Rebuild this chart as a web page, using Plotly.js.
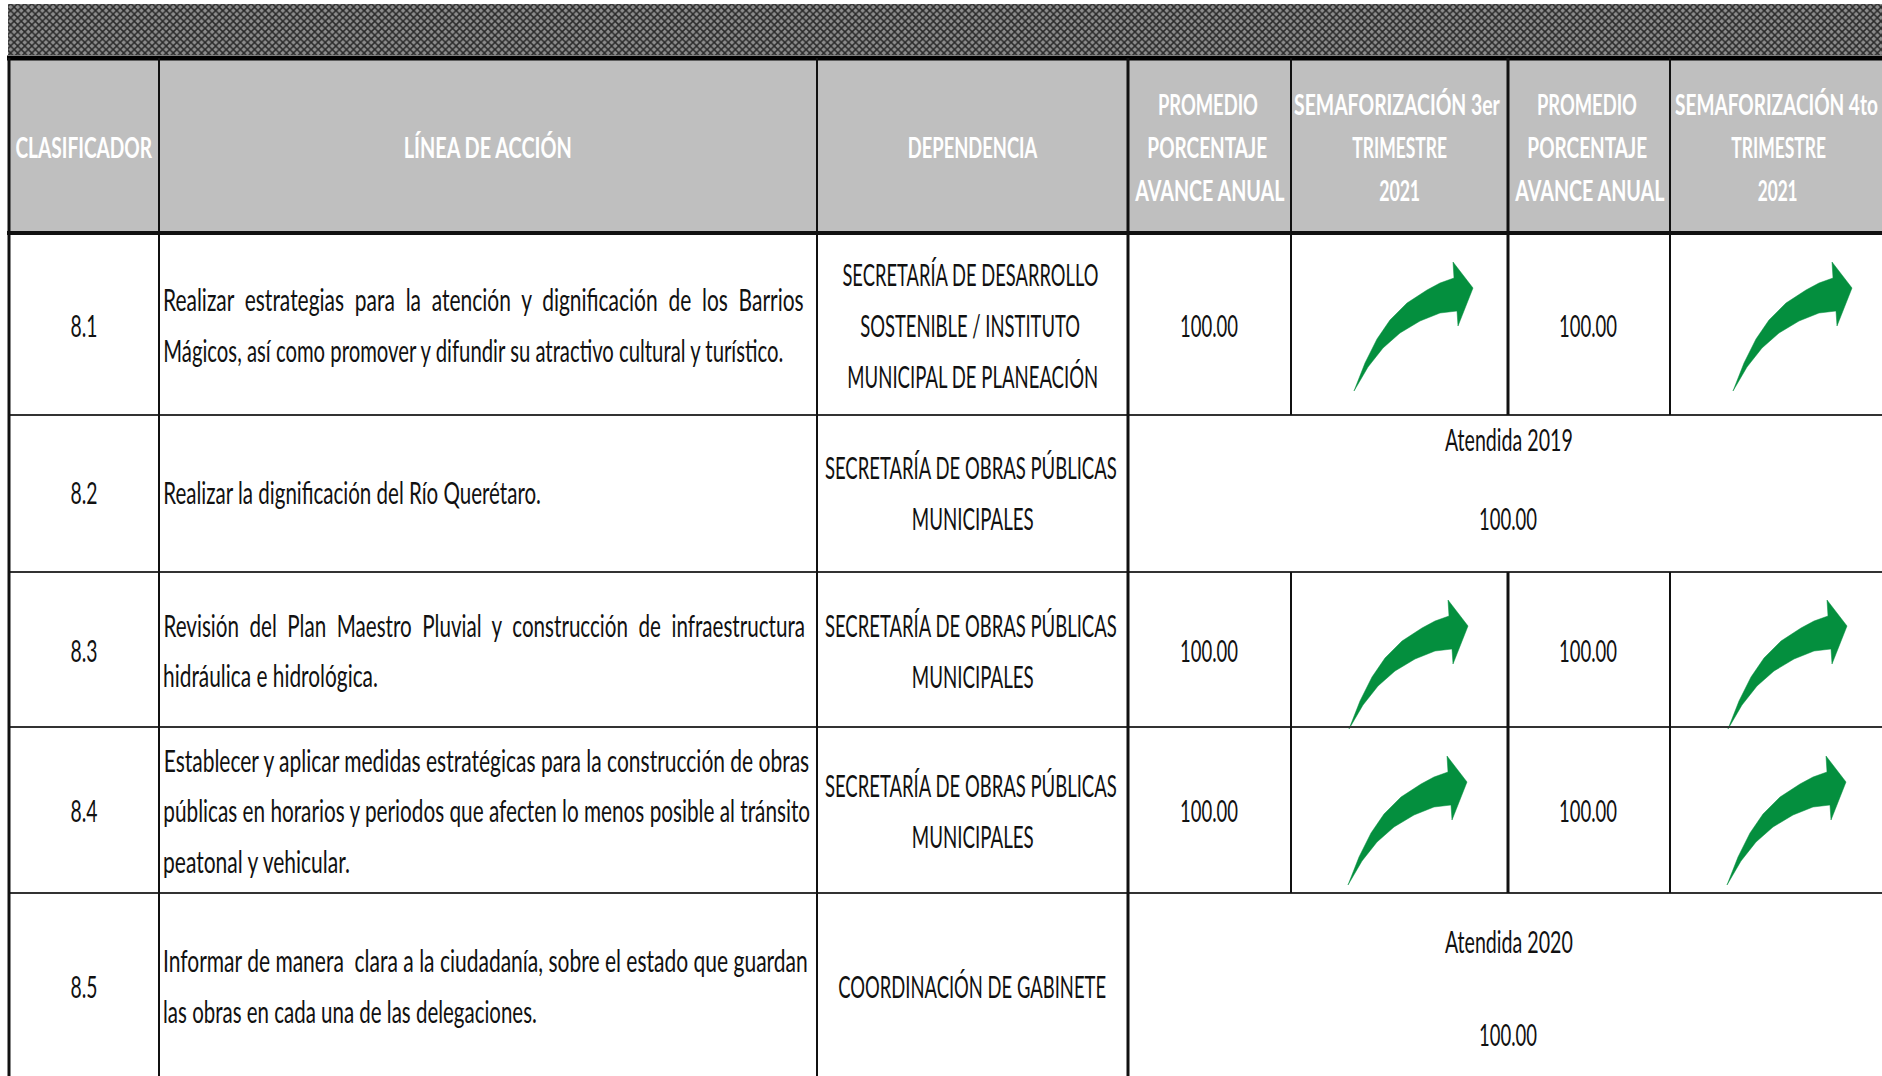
<!DOCTYPE html>
<html><head><meta charset="utf-8">
<script src="https://cdn.plot.ly/plotly-3.0.1.min.js"></script>
<style>html,body{margin:0;padding:0;background:#fff;overflow:hidden}</style>
</head><body><div id="c" style="width:1882px;height:1076px"></div>
<script>
const W=1882,H=1076;
const colEdges=[9,159,817,1128,1291,1508,1670,1882];
const rowEdges=[58,233,415,572,727,893,1076];
// text, centre x, centre y, width
const headers=[
 ["CLASIFICADOR",84,146,137],
 ["LÍNEA DE ACCIÓN",488,146,168],
 ["DEPENDENCIA",973,146,130],
 ["PROMEDIO",1208,103,100],["PORCENTAJE",1207,146,120],["AVANCE ANUAL",1209,189,150],
 ["SEMAFORIZACIÓN 3er",1397,103,206],["TRIMESTRE",1399,146,95],["2021",1399,189,41],
 ["PROMEDIO",1587,103,100],["PORCENTAJE",1587,146,120],["AVANCE ANUAL",1589,189,150],
 ["SEMAFORIZACIÓN 4to",1776,103,203],["TRIMESTRE",1778,146,95],["2021",1777,189,40]
];
const codes=[["8.1",84,325,27],["8.2",84,492,27],["8.3",84,650,27],["8.4",84,810,27],["8.5",84,986,27]];
const leftEdge=163;
// text, y, width, word gap
const actions=[
 ["Realizar estrategias para la atención y dignificación de los Barrios",299,641,2],
 ["Mágicos, así como promover y difundir su atractivo cultural y turístico.",350,620,1],
 ["Realizar la dignificación del Río Querétaro.",492,378,1],
 ["Revisión del Plan Maestro Pluvial y construcción de infraestructura",625,642,2],
 ["hidráulica e hidrológica.",675,215,1],
 ["Establecer y aplicar medidas estratégicas para la construcción de obras",760,646,1],
 ["públicas en horarios y periodos que afecten lo menos posible al tránsito",810,647,1],
 ["peatonal y vehicular.",861,187,1],
 ["Informar de manera  clara a la ciudadanía, sobre el estado que guardan",960,645,1],
 ["las obras en cada una de las delegaciones.",1011,374,1]
];
const depts=[
 ["SECRETARÍA DE DESARROLLO",970,274,256],["SOSTENIBLE / INSTITUTO",970,325,220],["MUNICIPAL DE PLANEACIÓN",973,376,251],
 ["SECRETARÍA DE OBRAS PÚBLICAS",971,467,292],["MUNICIPALES",973,518,122],
 ["SECRETARÍA DE OBRAS PÚBLICAS",971,625,292],["MUNICIPALES",973,676,122],
 ["SECRETARÍA DE OBRAS PÚBLICAS",971,785,292],["MUNICIPALES",973,836,122],
 ["COORDINACIÓN DE GABINETE",972,986,268]
];
const values=[
 ["100.00",1209,325,58],["100.00",1588,325,58],
 ["Atendida 2019",1509,439,128],["100.00",1508,518,58],
 ["100.00",1209,650,58],["100.00",1588,650,58],
 ["100.00",1209,810,58],["100.00",1588,810,58],
 ["Atendida 2020",1509,941,128],["100.00",1508,1034,58]
];
const arrowAnchors=[[1354,391],[1733,391],[1349,729],[1728,729],[1348,885],[1727,885]];
const arrowDx=[0,11,23,36,53,73,86,100,99,119,104,103,86,66,46,29,14,0];
const arrowDy=[0,-28,-52,-71,-88,-101,-108,-113,-129,-103,-65,-80,-78,-70,-58,-43,-24,0];
const band=[4,55];

const traces=[];
traces.push({type:'bar',orientation:'h',base:[colEdges[0]-1],x:[W-colEdges[0]+1],y:[(band[0]+band[1])/2],width:[band[1]-band[0]],
 marker:{color:'#8a8a8a',line:{width:0},pattern:{shape:'x',fgcolor:'#2a2a2a',bgcolor:'#8c8c8c',size:5,solidity:0.5}},hoverinfo:'skip'});
arrowAnchors.forEach(a=>traces.push({type:'scatter',mode:'lines',x:arrowDx.map(d=>a[0]+d),y:arrowDy.map(d=>a[1]+d),
 fill:'toself',fillcolor:'#048f3e',line:{color:'#048f3e',width:0.5,shape:'linear'},hoverinfo:'skip'}));

const shapes=[];
const rect=(x0,y0,x1,y1,c)=>({type:'rect',layer:'below',x0,y0,x1,y1,fillcolor:c,line:{width:0}});
const line=(x0,y0,x1,y1,c,w)=>({type:'line',layer:'above',x0,y0,x1,y1,line:{color:c,width:w}});
shapes.push(rect(colEdges[0],rowEdges[0],W,rowEdges[1],'#bfbfbf'));
shapes.push(line(colEdges[0]-2,rowEdges[0],W,rowEdges[0],'#000',5));
shapes.push(line(colEdges[0]-2,rowEdges[1],W,rowEdges[1],'#111',4));
for(let i=2;i<=5;i++)shapes.push(line(colEdges[0],rowEdges[i],W,rowEdges[i],'#333',2));
const v=(x,w,y0,y1)=>shapes.push(line(x,y0,x,y1,'#111',w));
v(colEdges[0],3,rowEdges[0],H);v(colEdges[1],2,rowEdges[0],H);v(colEdges[2],2,rowEdges[0],H);v(colEdges[3],3,rowEdges[0],H);
[[0,1],[1,2],[3,4],[4,5]].forEach(([a,b])=>{ [[colEdges[4],2],[colEdges[5],3],[colEdges[6],2]].forEach(([x,w])=>v(x,w,rowEdges[a],rowEdges[b])); });

const ann=[],widths=[];
const add=(t,x,y,w,size,color,weight)=>{widths.push(w);ann.push({text:t,x,y,xref:'x',yref:'y',showarrow:false,xanchor:'center',yanchor:'middle',font:{family:'Lato, sans-serif',size,color,weight:weight||'normal'}});};
headers.forEach(h=>add(h[0],h[1],h[2],h[3],29,'#ffffff','bold'));
codes.forEach(c=>add(c[0],c[1],c[2],c[3],30,'#111'));
actions.forEach(a=>add(a[0].replace(/ /g,'\u00a0'.repeat(a[3])),leftEdge+a[2]/2,a[1],a[2],30,'#111'));
depts.forEach(d=>add(d[0],d[1],d[2],d[3],30,'#111'));
values.forEach(d=>add(d[0],d[1],d[2],d[3],30,'#111'));

Plotly.newPlot('c',traces,{width:W,height:H,margin:{l:0,r:0,t:0,b:0},showlegend:false,paper_bgcolor:'#fff',plot_bgcolor:'#fff',
 barmode:'overlay',
 xaxis:{range:[0,W],visible:false,fixedrange:true},yaxis:{range:[H,0],visible:false,fixedrange:true},shapes,annotations:ann},{displayModeBar:false,staticPlot:true}).then(()=>{
  // the source text is a horizontally condensed face: squeeze each line to its measured width
  document.querySelectorAll('#c .annotation-text').forEach((el,i)=>{
    const b=el.getBBox(), cx=b.x+b.width/2, s=widths[i]/b.width;
    el.setAttribute('transform','translate('+cx+',0) scale('+s+',1) translate('+(-cx)+',0)');
  });
 });
</script></body></html>
